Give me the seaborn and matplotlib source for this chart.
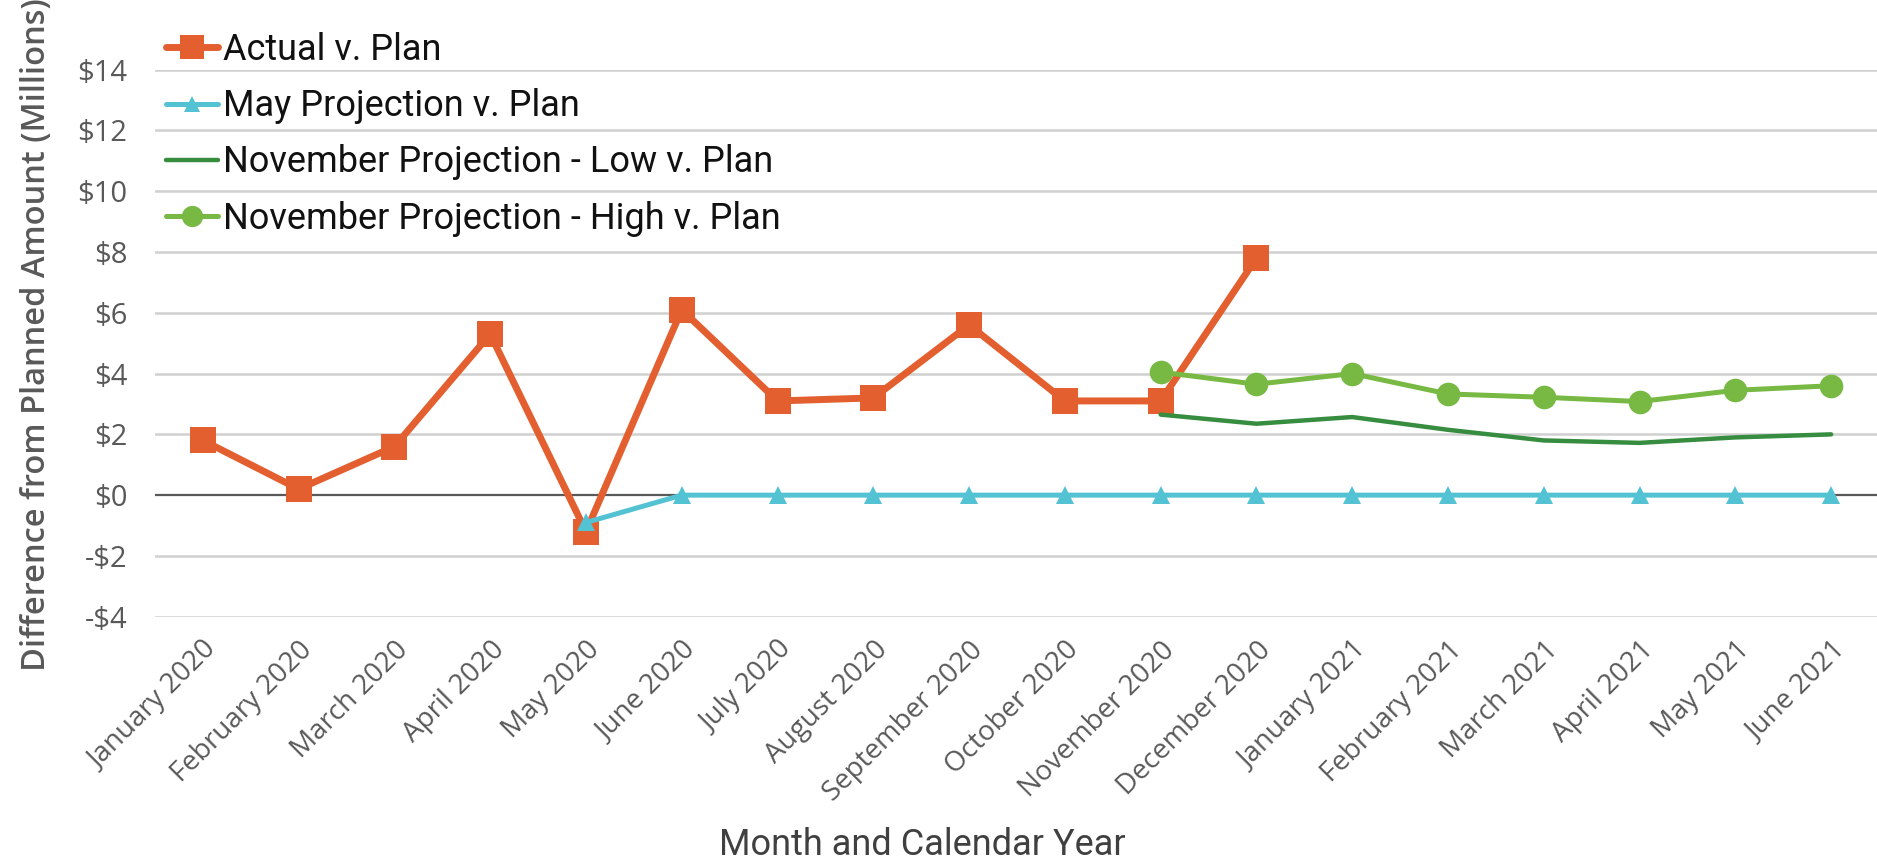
import numpy as np
import pandas as pd
import matplotlib
matplotlib.use("Agg")
import matplotlib.pyplot as plt
import seaborn as sns

months = ["January 2020", "February 2020", "March 2020", "April 2020", "May 2020",
          "June 2020", "July 2020", "August 2020", "September 2020", "October 2020",
          "November 2020", "December 2020", "January 2021", "February 2021",
          "March 2021", "April 2021", "May 2021", "June 2021"]

nan = np.nan
actual = [1.8, 0.2, 1.6, 5.3, -1.2, 6.1, 3.1, 3.2, 5.6, 3.1, 3.1, 7.8,
          nan, nan, nan, nan, nan, nan]
may_proj = [nan, nan, nan, nan, -0.9, 0, 0, 0, 0, 0, 0, 0, 0, 0, 0, 0, 0, 0]
nov_low = [nan] * 10 + [2.65, 2.35, 2.57, 2.15, 1.8, 1.72, 1.9, 2.0]
nov_high = [nan] * 10 + [4.05, 3.65, 4.0, 3.33, 3.22, 3.08, 3.45, 3.6]

y_ticks = [-4, -2, 0, 2, 4, 6, 8, 10, 12, 14]

series = [
    ("Actual v. Plan", actual, "#E35F2F", "s", 18.5, 5.0),
    ("May Projection v. Plan", may_proj, "#53C3D4", "^", 13.5, 3.6),
    ("November Projection - Low v. Plan", nov_low, "#368C3F", None, 0, 3.2),
    ("November Projection - High v. Plan", nov_high, "#78B943", "o", 17, 3.6),
]

sns.set_theme(style="white")
plt.rcParams["font.family"] = ["Open Sans", "DejaVu Sans"]

W, H = 1877, 861
fig = plt.figure(figsize=(W / 100, H / 100), dpi=100)
ax = fig.add_axes([155 / W, 1 - 616.7 / H, (1879 - 155) / W, (616.7 - 69.7) / H])

x = np.arange(len(months))
for z, (name, vals, col, mk, ms, lw) in enumerate(series):
    df = pd.DataFrame({"x": x, "y": vals}).dropna()
    kw = dict(marker=mk, markersize=ms, markeredgewidth=0) if mk else {}
    sns.lineplot(data=df, x="x", y="y", ax=ax, color=col, linewidth=lw,
                 label=name, zorder=3 + z, **kw)

ax.set_xlim(-0.5, len(months) - 0.5)
ax.set_ylim(-4, 14)
ax.set_yticks(y_ticks)
ax.set_yticklabels([("-$%d" % -v) if v < 0 else ("$%d" % v) for v in y_ticks],
                   fontsize=21, color="#595959")
ax.set_xticks(x)
ax.set_xticklabels(months, rotation=45, ha="right", rotation_mode="anchor",
                   fontsize=20, color="#595959")
ax.tick_params(axis="both", length=0)
ax.tick_params(axis="y", pad=20)
ax.tick_params(axis="x", pad=14)
for v in y_ticks:
    if v != 0:
        ax.axhline(v, color="#D0D0D0", linewidth=1.8, zorder=1)
ax.axhline(0, color="#595959", linewidth=1.6, zorder=2)
for s in ax.spines.values():
    s.set_visible(False)
ax.set_xlabel("")
ax.set_ylabel("")

fig.text(37 / W, 1 - 335 / H, "Difference from Planned Amount (Millions)",
         rotation=90, ha="center", va="center", fontsize=23.5, fontweight="semibold",
         color="#595959")
fig.text(922 / W, 1 - 845 / H, "Month and Calendar Year", ha="center", va="center",
         fontsize=26, color="#404040", family=["Roboto", "DejaVu Sans"])

ax.get_legend().remove()
handles, labels = ax.get_legend_handles_labels()
leg = fig.legend(handles, labels, loc="upper left",
                 bbox_to_anchor=(166 / W, 1 - 32 / H), frameon=False,
                 borderpad=0, borderaxespad=0, handlelength=1.45, handletextpad=0.12,
                 labelspacing=0.56, markerscale=0.9,
                 prop={"family": ["Roboto", "DejaVu Sans"], "size": 26})
for t in leg.get_texts():
    t.set_color("#111111")

fig.savefig("out.png", dpi=100)
